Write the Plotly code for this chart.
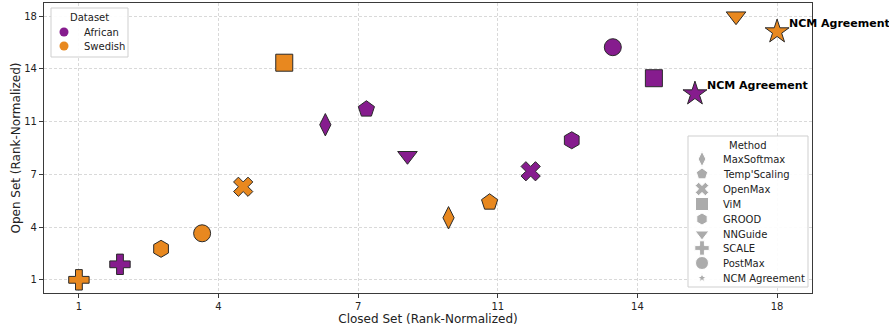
import plotly.graph_objects as go

methods = ["MaxSoftmax", "Temp'Scaling", "OpenMax", "ViM", "GROOD", "NNGuide", "SCALE", "PostMax", "NCM Agreement"]
symbols = ["diamond-tall", "pentagon", "x", "square", "hexagon", "triangle-down", "cross", "circle", "star"]

african_closed = [7, 8, 12, 15, 13, 9, 2, 14, 16]
african_open = [11, 12, 8, 14, 10, 9, 2, 16, 13]
swedish_closed = [10, 11, 5, 6, 3, 17, 1, 4, 18]
swedish_open = [5, 6, 7, 15, 3, 18, 1, 4, 17]

tick_vals = [1, 4.4, 7.8, 11.2, 14.6, 18]
tick_text = ["1", "4", "7", "11", "14", "18"]

colors = {"African": "#861C8E", "Swedish": "#E8881F"}
datasets = {"African": (african_closed, african_open), "Swedish": (swedish_closed, swedish_open)}

W, H = 889, 326
L, R, T, B = 44, 812, 3, 293   # plot area in pixels
RNG = [0.15, 18.85]

def px2x(p):
    return RNG[0] + (p - L) / (R - L) * (RNG[1] - RNG[0])

def px2y(p):
    return RNG[0] + (B - p) / (B - T) * (RNG[1] - RNG[0])

fig = go.Figure()

for name, (xs, ys) in datasets.items():
    for m, s, x, y in zip(methods, symbols, xs, ys):
        size = 17
        if s == "star":
            size = 18
        elif s == "diamond-tall":
            size = 16
        fig.add_trace(go.Scatter(
            x=[x], y=[y], mode="markers", showlegend=False,
            marker=dict(symbol=s, size=size, color=colors[name],
                        line=dict(color="#2a2a2a", width=1)),
            hovertext=f"{name} {m}",
        ))
    fig.add_annotation(x=xs[-1], y=ys[-1], text="<b>NCM Agreement</b>", showarrow=False,
                       xanchor="left", yanchor="middle", xshift=10, yshift=8,
                       font=dict(size=11, color="black", family="DejaVu Sans"))

# ---- manual legends (positions in pixel units on an overlay axis) ----
leg_font = dict(size=10, color="#222", family="DejaVu Sans")
shapes = []

def legend_box(x0, y0, x1, y1):
    shapes.append(dict(type="rect", xref="x", yref="y",
                       x0=px2x(x0), y0=px2y(y0), x1=px2x(x1), y1=px2y(y1),
                       fillcolor="rgba(255,255,255,0.92)", line=dict(color="#cfcfcf", width=1),
                       layer="between"))

# Dataset legend
legend_box(51, 8, 128, 57)
fig.add_annotation(x=89.5, y=17, xref="x2", yref="y2", text="Dataset", showarrow=False,
                   xanchor="center", yanchor="middle", font=leg_font)
ds_rows = [32, 46]
fig.add_trace(go.Scatter(x=[64, 64], y=ds_rows, xaxis="x2", yaxis="y2", mode="markers",
                         showlegend=False, hoverinfo="skip",
                         marker=dict(symbol="circle", size=9, color=[colors["African"], colors["Swedish"]])))
for name, yy in zip(datasets, ds_rows):
    fig.add_annotation(x=82, y=yy, xref="x2", yref="y2", text=name, showarrow=False,
                       xanchor="left", yanchor="middle", font=leg_font)

# Method legend
legend_box(688, 136, 808, 287)
fig.add_annotation(x=748, y=145, xref="x2", yref="y2", text="Method", showarrow=False,
                   xanchor="center", yanchor="middle", font=leg_font)
m_rows = [159, 174, 189, 204, 219, 234, 248, 263, 278]
leg_sizes = {"diamond-tall": 11, "pentagon": 12, "x": 12, "square": 13, "hexagon": 12,
             "triangle-down": 12, "cross": 12, "circle": 13, "star": 7}
fig.add_trace(go.Scatter(x=[702] * len(methods), y=m_rows, xaxis="x2", yaxis="y2", mode="markers",
                         showlegend=False, hoverinfo="skip",
                         marker=dict(symbol=symbols, size=[leg_sizes[s] for s in symbols], color="#888888")))
for m, yy in zip(methods, m_rows):
    fig.add_annotation(x=721, y=yy, xref="x2", yref="y2", text=m, showarrow=False,
                       xanchor="left", yanchor="middle", font=leg_font)

axis_common = dict(
    range=RNG, tickmode="array", tickvals=tick_vals, ticktext=tick_text,
    showline=True, mirror=True, linecolor="#3a3a3a", linewidth=1.2,
    ticks="outside", ticklen=4, tickcolor="#3a3a3a",
    showgrid=True, gridcolor="#d9d9d9", griddash="3px,2px", gridwidth=0.8,
    zeroline=False, tickfont=dict(size=10, color="#222"), automargin=False,
)

fig.update_layout(
    width=W, height=H,
    margin=dict(l=L, r=W - R, t=T, b=H - B, autoexpand=False),
    plot_bgcolor="white", paper_bgcolor="white",
    font=dict(family="DejaVu Sans", size=10, color="#222"),
    showlegend=False,
    xaxis=dict(**axis_common, title=dict(text="Closed Set (Rank-Normalized)", font=dict(size=12), standoff=3)),
    yaxis=dict(**axis_common, title=dict(text="Open Set (Rank-Normalized)", font=dict(size=12), standoff=0)),
    xaxis2=dict(overlaying="x", anchor="y2", range=[L, R], visible=False, fixedrange=True),
    yaxis2=dict(overlaying="y", anchor="x2", range=[B, T], visible=False, fixedrange=True),
    shapes=shapes,
)

fig.write_html("out.html", post_script="document.body.style.margin='0';",
               config={"displayModeBar": False})
